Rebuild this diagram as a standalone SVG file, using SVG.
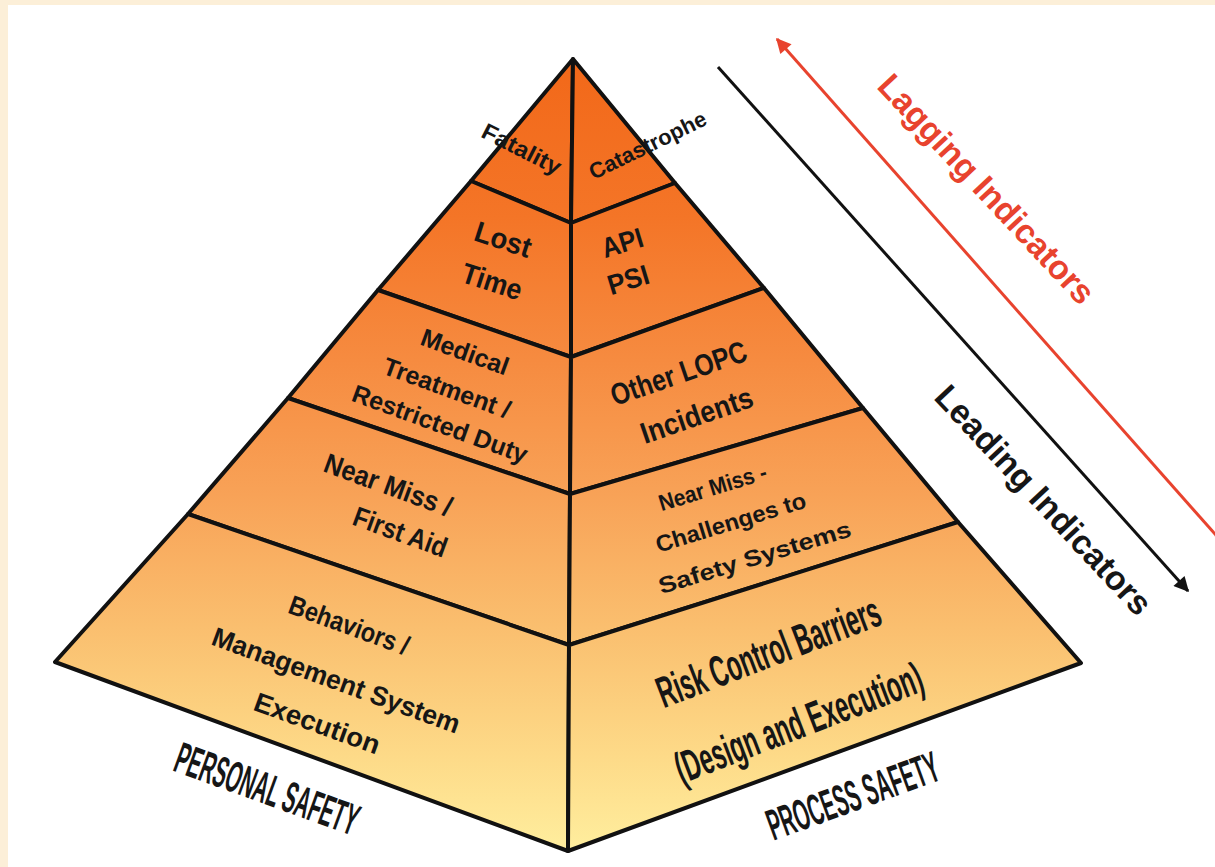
<svg xmlns="http://www.w3.org/2000/svg" width="1215" height="867" viewBox="0 0 1215 867">
<defs>
<linearGradient id="pyr" gradientUnits="userSpaceOnUse" x1="0" y1="59" x2="0" y2="851">
<stop offset="0" stop-color="#F26819"/>
<stop offset="0.2" stop-color="#F47527"/>
<stop offset="0.38" stop-color="#F68B40"/>
<stop offset="0.55" stop-color="#F8A257"/>
<stop offset="0.72" stop-color="#FABF6F"/>
<stop offset="0.88" stop-color="#FDDA88"/>
<stop offset="1" stop-color="#FFEE9E"/>
</linearGradient>
<marker id="ahBlack" viewBox="0 0 10 10" refX="9" refY="5" markerWidth="6" markerHeight="5" orient="auto" markerUnits="strokeWidth"><path d="M0,0 L10,5 L0,10 z" fill="#111"/></marker>
<marker id="ahRed" viewBox="0 0 10 10" refX="9" refY="5" markerWidth="6" markerHeight="5" orient="auto" markerUnits="strokeWidth"><path d="M0,0 L10,5 L0,10 z" fill="#E8432E"/></marker>
<style>
.band{stroke:#111;stroke-width:4;stroke-linejoin:round;fill:url(#pyr)}
.t{font-family:"Liberation Sans",Arial,sans-serif;font-weight:bold;fill:#161616;text-anchor:middle}
.lag{fill:#E8432E}
.conn{fill:none;stroke-width:3}
</style>
</defs>
<rect x="0" y="0" width="1215" height="867" fill="#ffffff"/>
<rect x="0" y="0" width="1215" height="5" fill="#FCEFD8"/>
<rect x="0" y="0" width="8" height="867" fill="#FCEFD8"/>

<g id="band1">
<polygon class="band" points="573,59 571,223 471,181"/>
<polygon class="band" points="573,59 675,183 571,223"/>
<text class="t" font-size="23" textLength="86" lengthAdjust="spacingAndGlyphs" transform="translate(518,156) rotate(27)">Fatality</text>
<text class="t" font-size="22" textLength="128" lengthAdjust="spacingAndGlyphs" transform="translate(651,152) rotate(-26)">Catastrophe</text>
</g>

<g id="band2">
<polygon class="band" points="471,181 571,223 571,357 378,290"/>
<polygon class="band" points="571,223 675,183 764,288 571,357"/>
<text class="t" font-size="29" textLength="58" lengthAdjust="spacingAndGlyphs" transform="translate(500,249) rotate(18)">Lost</text>
<text class="t" font-size="29" textLength="62" lengthAdjust="spacingAndGlyphs" transform="translate(489,291) rotate(18)">Time</text>
<text class="t" font-size="28" textLength="42" lengthAdjust="spacingAndGlyphs" transform="translate(625,252) rotate(-17)">API</text>
<text class="t" font-size="28" textLength="42" lengthAdjust="spacingAndGlyphs" transform="translate(631,289) rotate(-17)">PSI</text>
</g>

<g id="band3">
<polygon class="band" points="378,290 571,357 570,494 288,398"/>
<polygon class="band" points="571,357 764,288 863,408 570,494"/>
<text class="t" font-size="25" transform="translate(462,360) rotate(20)">Medical</text>
<text class="t" font-size="25" transform="translate(444,396) rotate(20)">Treatment /</text>
<text class="t" font-size="25" transform="translate(437,432) rotate(20)">Restricted Duty</text>
<text class="t" font-size="30" textLength="142" lengthAdjust="spacingAndGlyphs" transform="translate(682,383) rotate(-19)">Other LOPC</text>
<text class="t" font-size="30" textLength="117" lengthAdjust="spacingAndGlyphs" transform="translate(700,425) rotate(-19)">Incidents</text>
</g>

<g id="band4">
<polygon class="band" points="288,398 570,494 569,645 188,514"/>
<polygon class="band" points="570,494 863,408 958,522 569,645"/>
<text class="t" font-size="28" textLength="134" lengthAdjust="spacingAndGlyphs" transform="translate(385,494) rotate(20)">Near Miss /</text>
<text class="t" font-size="28" textLength="98" lengthAdjust="spacingAndGlyphs" transform="translate(397,541) rotate(20)">First Aid</text>
<text class="t" font-size="23" textLength="112" lengthAdjust="spacingAndGlyphs" transform="translate(715,495) rotate(-17)">Near Miss -</text>
<text class="t" font-size="23" textLength="156" lengthAdjust="spacingAndGlyphs" transform="translate(733,530) rotate(-17)">Challenges to</text>
<text class="t" font-size="23" textLength="200" lengthAdjust="spacingAndGlyphs" transform="translate(757,565) rotate(-17)">Safety Systems</text>
</g>

<g id="band5">
<polygon class="band" points="188,514 569,645 568,851 55,662"/>
<polygon class="band" points="569,645 958,522 1081,663 568,851"/>
<text class="t" font-size="27" textLength="126" lengthAdjust="spacingAndGlyphs" transform="translate(346,634) rotate(20)">Behaviors /</text>
<text class="t" font-size="27" textLength="262" lengthAdjust="spacingAndGlyphs" transform="translate(333,689) rotate(20)">Management System</text>
<text class="t" font-size="27" textLength="132" lengthAdjust="spacingAndGlyphs" transform="translate(314,732) rotate(20)">Execution</text>
<text class="t" font-size="44" textLength="236" lengthAdjust="spacingAndGlyphs" transform="translate(774,666) rotate(-21)">Risk Control Barriers</text>
<text class="t" font-size="44" textLength="262" lengthAdjust="spacingAndGlyphs" transform="translate(804,737) rotate(-21)">(Design and Execution)</text>
</g>

<g id="label-personal">
<text class="t" font-size="44" textLength="192" lengthAdjust="spacingAndGlyphs" transform="translate(262,803) rotate(20)">PERSONAL SAFETY</text>
</g>
<g id="label-process">
<text class="t" font-size="44" textLength="180" lengthAdjust="spacingAndGlyphs" transform="translate(858,810) rotate(-20)">PROCESS SAFETY</text>
</g>

<g id="connectors">
<line class="conn" x1="718" y1="67" x2="1188" y2="591" stroke="#111" marker-end="url(#ahBlack)"/>
<line class="conn" x1="1222" y1="542" x2="777" y2="39" stroke="#E8432E" marker-end="url(#ahRed)"/>
</g>

<g id="label-lagging">
<text class="t lag" font-size="34" textLength="300" lengthAdjust="spacingAndGlyphs" transform="translate(978,197) rotate(47)">Lagging Indicators</text>
</g>
<g id="label-leading">
<text class="t" font-size="34" textLength="300" lengthAdjust="spacingAndGlyphs" transform="translate(1035,508) rotate(47)">Leading Indicators</text>
</g>
</svg>
